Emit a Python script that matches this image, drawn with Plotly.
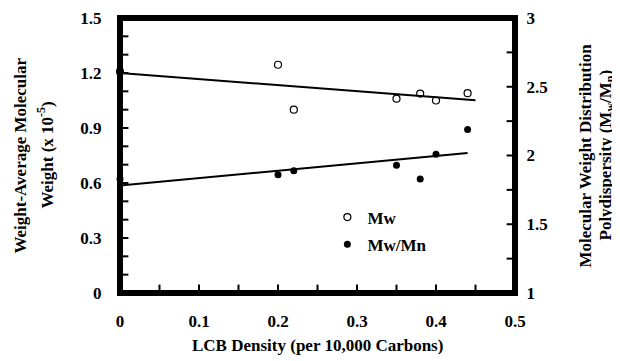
import numpy as np
import plotly.graph_objects as go

lcb = [0.0, 0.20, 0.22, 0.35, 0.38, 0.40, 0.44]
mw = [1.207, 1.245, 1.00, 1.06, 1.088, 1.05, 1.09]
pdi = [1.83, 1.86, 1.89, 1.93, 1.83, 2.01, 2.19]
mw_fit_range = [0.0, 0.45]
pdi_fit_range = [0.0, 0.44]
x_ticks = [0, 0.05, 0.1, 0.15, 0.2, 0.25, 0.3, 0.35, 0.4, 0.45, 0.5]
x_labels = ["0", "", "0.1", "", "0.2", "", "0.3", "", "0.4", "", "0.5"]
y_ticks = [0, 0.1, 0.2, 0.3, 0.4, 0.5, 0.6, 0.7, 0.8, 0.9, 1.0, 1.1, 1.2, 1.3, 1.4, 1.5]
y_labels = ["0", "", "", "0.3", "", "", "0.6", "", "", "0.9", "", "", "1.2", "", "", "1.5"]
y2_ticks = [1, 1.25, 1.5, 1.75, 2, 2.25, 2.5, 2.75, 3]
y2_labels = ["1", "", "1.5", "", "2", "", "2.5", "", "3"]
x_range = [0, 0.5]
y_range = [0, 1.5]
y2_range = [1, 3]

FONT = "Liberation Serif"
FS = 17
PLOT_W, PLOT_H = 395, 275  # plot area in px
FRAME_PX = 3               # frame thickness in px

def b(s):
    return "<b>" + s + "</b>" if s else ""

m1, b1 = np.polyfit(lcb, mw, 1)
m2, b2 = np.polyfit(lcb, pdi, 1)
x1 = np.array(mw_fit_range)
x2 = np.array(pdi_fit_range)

fig = go.Figure()
fig.add_trace(go.Scatter(x=x1, y=m1 * x1 + b1, mode="lines", line=dict(color="black", width=2),
                         showlegend=False, hoverinfo="skip"))
fig.add_trace(go.Scatter(x=x2, y=m2 * x2 + b2, mode="lines", line=dict(color="black", width=2),
                         showlegend=False, yaxis="y2", hoverinfo="skip"))

# plot frame: a filled ring just inside the axis ranges (keyhole polygon)
x0, xa = x_range
y0, ya = y_range
dx = (xa - x0) / PLOT_W * FRAME_PX
dy = (ya - y0) / PLOT_H * FRAME_PX
ring_x = [x0, xa, xa, x0, x0, x0 + dx, x0 + dx, xa - dx, xa - dx, x0 + dx, x0]
ring_y = [y0, y0, ya, ya, y0, y0 + dy, ya - dy, ya - dy, y0 + dy, y0 + dy, y0]
fig.add_trace(go.Scatter(x=ring_x, y=ring_y, mode="none", fill="toself", fillcolor="black",
                         showlegend=False, hoverinfo="skip"))
fig.add_trace(go.Scatter(x=[x0, xa, xa, x0, x0], y=[y0, y0, ya, ya, y0],
                         mode="lines", line=dict(color="black", width=3), cliponaxis=False,
                         showlegend=False, hoverinfo="skip"))

# inside tick marks (line markers clipped to the plot area so only the inner half shows)
tick_marker = dict(color="black", size=12, line=dict(color="black", width=2))
fig.add_trace(go.Scatter(x=x_ticks, y=[y_range[0]] * len(x_ticks), mode="markers", showlegend=False,
                         hoverinfo="skip", cliponaxis=True, marker=dict(symbol="line-ns", **tick_marker)))
fig.add_trace(go.Scatter(x=[x_range[0]] * len(y_ticks), y=y_ticks, mode="markers", showlegend=False,
                         hoverinfo="skip", cliponaxis=True, marker=dict(symbol="line-ew", **tick_marker)))
fig.add_trace(go.Scatter(x=[x_range[1]] * len(y2_ticks), y=y2_ticks, yaxis="y2", mode="markers",
                         showlegend=False, hoverinfo="skip", cliponaxis=True,
                         marker=dict(symbol="line-ew", **tick_marker)))

fig.add_trace(go.Scatter(x=lcb, y=mw, mode="markers", name=b("Mw"), legendgroup="a", cliponaxis=False,
                         marker=dict(symbol="circle-open", size=7, color="black", line=dict(width=1.2))))
fig.add_trace(go.Scatter(x=lcb, y=pdi, mode="markers", name=b("Mw/Mn"), yaxis="y2", legendgroup="b",
                         cliponaxis=False, marker=dict(symbol="circle", size=7, color="black")))

def axis(rng, vals, labels, **kw):
    d = dict(range=rng, tickmode="array", tickvals=vals, ticktext=[b(t) for t in labels],
             showgrid=False, zeroline=False, showline=True, linecolor="black", linewidth=3,
             ticks="", automargin=False, tickfont=dict(family=FONT, size=FS, color="black"))
    d.update(kw)
    return d

# the page body keeps its default 8px margin, so the figure sits at (8, 8)
fig.update_layout(
    width=612, height=353,
    margin=dict(l=112, r=105, t=10, b=68, autoexpand=False),
    paper_bgcolor="white", plot_bgcolor="white",
    font=dict(family=FONT, size=FS, color="black"),
    xaxis=axis(x_range, x_ticks, x_labels, mirror=True, ticklabelstandoff=11),
    yaxis=axis(y_range, y_ticks, y_labels, ticklabelstandoff=12),
    yaxis2=axis(y2_range, y2_ticks, y2_labels, overlaying="y", side="right", anchor="x",
                ticklabelstandoff=5),
    legend=dict(x=0.525, y=0.34, xanchor="left", yanchor="top", bgcolor="rgba(0,0,0,0)",
                tracegroupgap=2, font=dict(family=FONT, size=FS, color="black")),
    showlegend=True,
)

ann = dict(xref="paper", yref="paper", showarrow=False, xanchor="center", yanchor="middle",
           font=dict(family=FONT, size=FS, color="black"))
fig.add_annotation(text=b("Weight-Average Molecular"), x=0, y=0.5, xshift=-100, textangle=-90, **ann)
fig.add_annotation(text=b("Weight (x 10<sup>-5</sup>)"), x=0, y=0.5, xshift=-75, textangle=-90, **ann)
fig.add_annotation(text=b("Molecular Weight Distribution"), x=1, y=0.5, xshift=70, textangle=-90, **ann)
fig.add_annotation(text=b("Polydispersity (M<sub>w</sub>/M<sub>n</sub>)"), x=1, y=0.5, xshift=91,
                   textangle=-90, **ann)
fig.add_annotation(text=b("LCB Density (per 10,000 Carbons)"), x=0.5, y=0, yshift=-52, **ann)

fig.write_html("out.html", config={"staticPlot": True, "displayModeBar": False})
